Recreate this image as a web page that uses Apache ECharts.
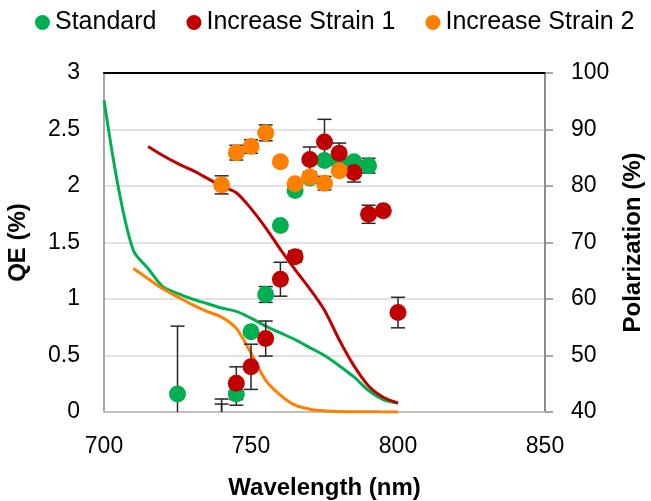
<!DOCTYPE html>
<html>
<head>
<meta charset="utf-8">
<script src="https://cdn.jsdelivr.net/npm/echarts@6/dist/echarts.min.js"></script>
<style>
  html, body { margin: 0; padding: 0; background: #fff; }
  #chart { width: 651px; height: 501px; }
</style>
</head>
<body>
<div id="chart"></div>
<script>
// polarization points (right axis), with +/- error
var stdX = [725, 740, 745, 750, 755, 760, 765, 770, 775, 780, 785, 790];
var stdPol = [43.2, 36, 43.2, 54.2, 60.8, 73.0, 79.2, 81.4, 84.5, 84.1, 84.3, 83.6];
var stdErr = [12, 5.4, 2, 0.5, 1.4, 0.5, 0.5, 0.5, 0.5, 0.5, 0.5, 1.3];

var s1X = [740, 745, 750, 755, 760, 765, 770, 775, 780, 785, 790, 795, 800];
var s1Pol = [35, 45.1, 48.0, 53.0, 63.5, 67.5, 84.7, 87.8, 85.8, 82.4, 75.0, 75.6, 57.6];
var s1Err = [7.3, 2.9, 4.0, 3.1, 3.0, 1.0, 2.2, 4.0, 1.8, 1.7, 1.6, 0, 2.7];

var s2X = [740, 745, 750, 755, 760, 765, 770, 775, 780];
var s2Pol = [80.2, 85.9, 87.0, 89.4, 84.3, 80.4, 81.6, 80.5, 82.7];
var s2Err = [1.6, 1.3, 1.2, 1.4, 0.5, 0.5, 0.5, 1.2, 0.5];

// QE curves (left axis)
var stdQEx = [700, 705, 710, 715, 720, 725, 730, 735, 740, 745, 750, 755, 760, 765, 770, 775, 780, 785, 790, 795, 800];
var stdQE = [2.76, 1.97, 1.43, 1.27, 1.11, 1.05, 1.00, 0.96, 0.92, 0.89, 0.83, 0.76, 0.70, 0.64, 0.57, 0.50, 0.41, 0.31, 0.19, 0.11, 0.08];
var s1QEx = [715, 720, 725, 730, 735, 740, 745, 750, 755, 760, 765, 770, 775, 780, 785, 790, 795, 800];
var s1QE = [2.35, 2.27, 2.20, 2.14, 2.07, 2.00, 1.94, 1.80, 1.63, 1.44, 1.26, 1.09, 0.90, 0.64, 0.41, 0.23, 0.13, 0.08];
var s2QEx = [710, 715, 720, 725, 730, 735, 740, 745, 750, 755, 760, 765, 770, 775, 780, 785, 790, 795, 800];
var s2QE = [1.27, 1.18, 1.09, 1.02, 0.95, 0.89, 0.84, 0.74, 0.52, 0.28, 0.15, 0.06, 0.025, 0.01, 0.005, 0.003, 0.002, 0.001, 0];

var green = '#00B050', red = '#C00000', orange = '#FF8000';
var font = '"Liberation Sans", Arial, sans-serif';
var polMin = 40, polMax = 100;

function zip(xs, ys, es) {
    return xs.map(function (x, i) {
        return es ? [x, ys[i], es[i]] : [x, ys[i]];
    });
}

function errorItem(params, api) {
    var x = api.value(0), y = api.value(1), e = api.value(2);
    if (!e) return;
    var hi = y + e, lo = y - e;
    if (hi < polMin || lo > polMax) return;
    var top = api.coord([x, Math.min(hi, polMax)]);
    var bot = api.coord([x, Math.max(lo, polMin)]);
    var style = {stroke: '#262626', lineWidth: 1.5};
    var w = 7;
    var kids = [{type: 'line', shape: {x1: top[0], y1: top[1], x2: bot[0], y2: bot[1]}, style: style}];
    if (hi <= polMax) kids.push({type: 'line', shape: {x1: top[0] - w, y1: top[1], x2: top[0] + w, y2: top[1]}, style: style});
    if (lo >= polMin) kids.push({type: 'line', shape: {x1: bot[0] - w, y1: bot[1], x2: bot[0] + w, y2: bot[1]}, style: style});
    return {type: 'group', children: kids};
}

function lineSeries(name, xs, ys, color) {
    return {
        name: name, type: 'line', xAxisIndex: 0, yAxisIndex: 0,
        data: zip(xs, ys), showSymbol: false, smooth: 0.3,
        lineStyle: {color: color, width: 3}, itemStyle: {color: color}, z: 2
    };
}

function errSeries(xs, ys, es) {
    return {
        type: 'custom', xAxisIndex: 0, yAxisIndex: 1,
        data: zip(xs, ys, es), renderItem: errorItem,
        encode: {x: 0, y: 1}, z: 3, silent: true
    };
}

function dotSeries(name, xs, ys, color) {
    return {
        name: name, type: 'scatter', xAxisIndex: 0, yAxisIndex: 1,
        data: zip(xs, ys), symbolSize: 17, clip: true,
        itemStyle: {color: color, opacity: 1}, z: 3
    };
}

var myChart = echarts.init(document.getElementById('chart'));
myChart.setOption({
    animation: false,
    legend: {
        data: ['Standard', 'Increase Strain 1', 'Increase Strain 2'],
        top: 5, left: 30,
        icon: 'circle', itemWidth: 15, itemHeight: 15, itemGap: 30,
        textStyle: {fontFamily: font, fontSize: 25, color: '#000'}
    },
    grid: {left: 104, right: 106, top: 73, bottom: 89, containLabel: false, outerBoundsMode: 'none'},
    xAxis: [{
        type: 'value', min: 700, max: 850, interval: 50,
        name: 'Wavelength (nm)', nameLocation: 'middle', nameGap: 64,
        nameTextStyle: {fontFamily: font, fontSize: 24, fontWeight: 'bold', color: '#000'},
        axisLine: {show: true, lineStyle: {color: '#bfbfbf', width: 2}},
        axisTick: {show: false},
        axisLabel: {fontFamily: font, fontSize: 23, color: '#000', margin: 23},
        splitLine: {show: false}
    }, {
        type: 'value', position: 'top', min: 700, max: 850,
        axisLine: {show: true, lineStyle: {color: '#000', width: 2}},
        axisTick: {show: false}, axisLabel: {show: false}, splitLine: {show: false}
    }],
    yAxis: [{
        type: 'value', min: 0, max: 3, interval: 0.5, position: 'left',
        name: 'QE (%)', nameLocation: 'middle', nameGap: 74, nameRotate: 90,
        nameTextStyle: {fontFamily: font, fontSize: 24, fontWeight: 'bold', color: '#000'},
        axisLine: {show: true, lineStyle: {color: '#a6a6a6', width: 2}},
        axisTick: {show: false},
        axisLabel: {fontFamily: font, fontSize: 23, color: '#000', margin: 24},
        splitLine: {show: true, lineStyle: {color: '#d9d9d9', width: 1.5}}
    }, {
        type: 'value', min: 40, max: 100, interval: 10, position: 'right',
        name: 'Polarization (%)', nameLocation: 'middle', nameGap: 76, nameRotate: 90,
        nameTextStyle: {fontFamily: font, fontSize: 24, fontWeight: 'bold', color: '#000'},
        axisLine: {show: true, lineStyle: {color: '#8c8c8c', width: 2}},
        axisTick: {show: true, length: 8, inside: false, lineStyle: {color: '#8c8c8c', width: 1.5}},
        axisLabel: {fontFamily: font, fontSize: 23, color: '#000', margin: 26},
        splitLine: {show: false}
    }],
    series: [
        lineSeries('Standard QE', stdQEx, stdQE, green),
        lineSeries('Strain 1 QE', s1QEx, s1QE, red),
        lineSeries('Strain 2 QE', s2QEx, s2QE, orange),
        errSeries(stdX, stdPol, stdErr),
        dotSeries('Standard', stdX, stdPol, green),
        errSeries(s1X, s1Pol, s1Err),
        dotSeries('Increase Strain 1', s1X, s1Pol, red),
        errSeries(s2X, s2Pol, s2Err),
        dotSeries('Increase Strain 2', s2X, s2Pol, orange)
    ]
});
</script>
</body>
</html>
